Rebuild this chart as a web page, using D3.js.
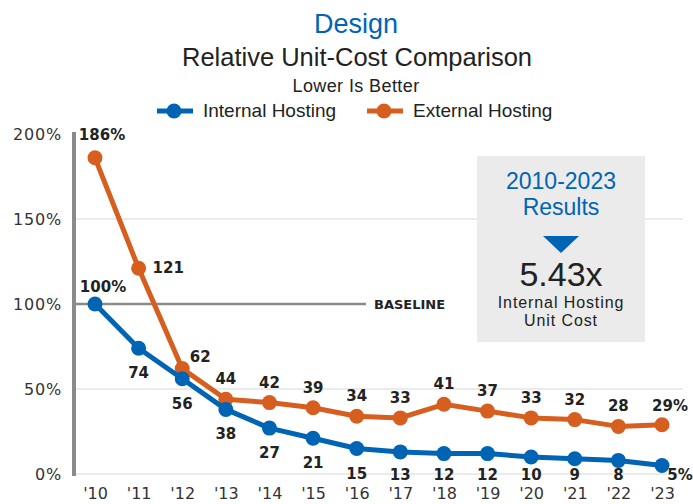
<!DOCTYPE html>
<html><head><meta charset="utf-8">
<script src="https://cdn.jsdelivr.net/npm/d3@7"></script>
<style>body{margin:0;background:#fff}svg{display:block}</style>
</head><body>
<svg id="c" width="693" height="504"></svg>
<script>
const years = ["'10","'11","'12","'13","'14","'15","'16","'17","'18","'19","'20","'21","'22","'23"];
const internal = [100,74,56,38,27,21,15,13,12,12,10,9,8,5];
const external = [186,121,62,44,42,39,34,33,41,37,33,32,28,29];
const yTicks = [0,50,100,150,200];
const internalLabels = ["100%","74","56","38","27","21","15","13","12","12","10","9","8","5%"];
const externalLabels = ["186%","121","62","44","42","39","34","33","41","37","33","32","28","29%"];

const blue = "#0064b4", orange = "#d65f1f";
const svg = d3.select("#c");
const font = "'Liberation Sans', Arial, sans-serif";
const lblFont = "'DejaVu Sans', sans-serif";

const x = d3.scalePoint().domain(years).range([95, 662]);
const y = d3.scaleLinear().domain([0, 200]).range([474, 134]);

// titles
svg.append("text").attr("x",356).attr("y",33).attr("text-anchor","middle")
  .attr("font-family",font).attr("font-size",27).attr("fill",blue).text("Design");
svg.append("text").attr("x",357).attr("y",66).attr("text-anchor","middle")
  .attr("font-family",font).attr("font-size",25.5).attr("fill","#222").text("Relative Unit-Cost Comparison");
svg.append("text").attr("x",356).attr("y",92).attr("text-anchor","middle")
  .attr("font-family",font).attr("font-size",18).attr("letter-spacing","0.4").attr("fill","#222").text("Lower Is Better");

// legend
const leg = [{n:"Internal Hosting",c:blue,x:157},{n:"External Hosting",c:orange,x:367}];
leg.forEach(l=>{
  svg.append("line").attr("x1",l.x).attr("x2",l.x+36).attr("y1",111).attr("y2",111).attr("stroke",l.c).attr("stroke-width",5);
  svg.append("circle").attr("cx",l.x+17).attr("cy",111).attr("r",7.5).attr("fill",l.c);
  svg.append("text").attr("x",l.x+46).attr("y",117).attr("font-family",font).attr("font-size",19).attr("fill","#222").text(l.n);
});

// gridlines
[0,50,150].forEach(v=>{
  svg.append("line").attr("x1",76).attr("x2",683).attr("y1",y(v)).attr("y2",y(v)).attr("stroke","#e4e4e4").attr("stroke-width",1.5);
});

// callout box
svg.append("rect").attr("x",477).attr("y",156).attr("width",168).attr("height",186).attr("fill","#ebebeb");
const bx = 561;
const box = svg.append("text").attr("text-anchor","middle").attr("font-family",font).attr("fill","#222");
box.append("tspan").attr("x",bx).attr("y",189).attr("font-size",23).attr("fill",blue).text("2010-2023");
box.append("tspan").attr("x",bx).attr("y",286).attr("font-size",34).text("5.43x");
box.append("tspan").attr("x",bx).attr("y",215).attr("font-size",23).attr("fill",blue).text("Results");
svg.append("text").attr("x",bx).attr("y",308).attr("text-anchor","middle").attr("font-family",font).attr("fill","#222")
  .attr("font-size",16).attr("letter-spacing","0.9").text("Internal Hosting");
svg.append("text").attr("x",bx).attr("y",326).attr("text-anchor","middle").attr("font-family",font).attr("fill","#222")
  .attr("font-size",16).attr("letter-spacing","0.9").text("Unit Cost");
svg.append("path").attr("d",`M${bx-18},236 L${bx+18},236 L${bx},253 Z`).attr("fill",blue);

// baseline
svg.append("line").attr("x1",76).attr("x2",366).attr("y1",y(100)).attr("y2",y(100)).attr("stroke","#8a8a8a").attr("stroke-width",2.5);
svg.append("text").attr("x",374).attr("y",y(100)+4.5).attr("font-family",lblFont).attr("font-size",13).attr("font-weight","bold").attr("fill","#222").text("BASELINE");

// y axis
svg.append("line").attr("x1",74).attr("x2",74).attr("y1",132).attr("y2",476).attr("stroke","#8a8a8a").attr("stroke-width",4);
const yAxis = d3.axisLeft(y).tickValues(yTicks).tickFormat(d=>d+"%").tickSize(0).tickPadding(0);
const ya = svg.append("g").attr("transform","translate(62,0)").call(yAxis);
ya.select(".domain").remove();
ya.selectAll("text").attr("font-family",lblFont).attr("font-size",16).attr("letter-spacing","0.8").attr("fill","#333");

// x axis
const xAxis = d3.axisBottom(x).tickSize(0).tickPadding(0);
const xa = svg.append("g").attr("transform","translate(0,488)").call(xAxis);
xa.select(".domain").remove();
xa.selectAll("text").attr("font-family",lblFont).attr("font-size",16).attr("fill","#333").attr("dy","0.68em");

// lines
const line = vals => d3.line().x((d,i)=>x(years[i])).y(d=>y(d))(vals);
function series(vals,c){
  svg.append("path").attr("d",line(vals)).attr("fill","none").attr("stroke",c).attr("stroke-width",5).attr("stroke-linejoin","round");
  svg.append("g").selectAll("circle").data(vals).join("circle")
    .attr("cx",(d,i)=>x(years[i])).attr("cy",d=>y(d)).attr("r",7.5).attr("fill",c);
}
series(external, orange);
series(internal, blue);

// labels
function labels(vals, texts, off, maxY){
  svg.append("g").selectAll("text").data(vals).join("text")
    .attr("x",(d,i)=>x(years[i])+off(i)[0]).attr("y",(d,i)=>Math.min(y(d)+off(i)[1], maxY))
    .attr("text-anchor",(d,i)=>off(i)[2]||"middle")
    .attr("dominant-baseline","central")
    .attr("font-family",lblFont).attr("font-size",15).attr("font-weight","bold").attr("fill","#222")
    .text((d,i)=>texts[i]);
}
labels(internal, internalLabels, i=> i===0?[8,-17]: i===13?[18,9]:[0,25], 475);
labels(external, externalLabels, i=> i===0?[7,-23]: i===1?[14,0,"start"]: i===2?[18,-12]: i===13?[8,-19]:[0,-20], 999);
</script>
</body></html>
